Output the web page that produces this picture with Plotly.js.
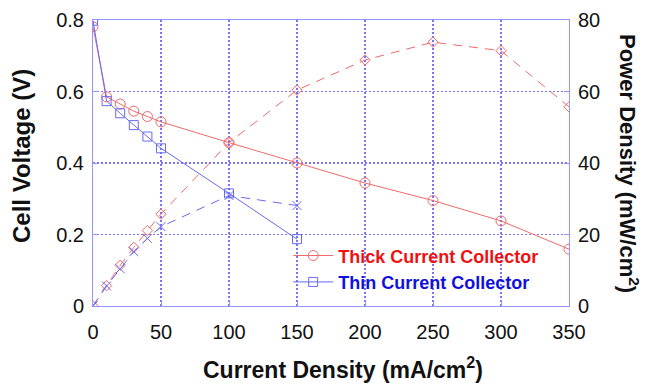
<!DOCTYPE html>
<html>
<head>
<meta charset="utf-8">
<script src="https://cdn.plot.ly/plotly-3.0.1.min.js"></script>
<style>html,body{margin:0;padding:0;background:#fff}#chart{width:645px;height:385px}</style>
</head>
<body>
<div id="chart"></div>
<script>
const currentThick = [0, 10, 20, 30, 40, 50, 100, 150, 200, 250, 300, 350];
const voltageThick = [0.781, 0.585, 0.565, 0.545, 0.530, 0.515, 0.457, 0.400, 0.344, 0.295, 0.238, 0.159];
const powerThick = [0, 5.7, 11.4, 16.4, 21.1, 25.7, 45.7, 60.4, 68.8, 73.8, 71.4, 55.7];

const currentThin = [0, 10, 20, 30, 40, 50, 100, 150];
const voltageThin = [0.798, 0.573, 0.539, 0.506, 0.474, 0.441, 0.315, 0.187];
const powerThin = [0, 5.6, 10.4, 15.2, 18.9, 22.2, 30.9, 28.1];

const red = '#f06a6a';
const blue = '#6a6af2';
const frame = '#9494ff';
const grid = '#7474ff';

const traces = [
  {x: currentThick, y: voltageThick, type: 'scatter', mode: 'lines+markers',
   name: '<b><span style="color:#ee1111">Thick Current Collector</span></b>',
   line: {color: red, width: 1}, marker: {symbol: 'circle-open', size: 10, color: red, line: {width: 1}}},
  {x: currentThin, y: voltageThin, type: 'scatter', mode: 'lines+markers',
   name: '<b><span style="color:#1111dd">Thin Current Collector</span></b>',
   line: {color: blue, width: 1}, marker: {symbol: 'square-open', size: 9, color: blue, line: {width: 1}}},
  {x: currentThick, y: powerThick, type: 'scatter', mode: 'lines+markers', yaxis: 'y2', showlegend: false,
   line: {color: red, width: 1, dash: '9px,7px'}, marker: {symbol: 'diamond-open', size: 8, color: red, line: {width: 1}}},
  {x: currentThin, y: powerThin, type: 'scatter', mode: 'lines+markers', yaxis: 'y2', showlegend: false,
   line: {color: blue, width: 1, dash: '9px,7px'}, marker: {symbol: 'x-thin-open', size: 9, color: blue, line: {width: 1, color: blue}}}
];

const layout = {
  width: 645, height: 385,
  margin: {l: 93, r: 76, t: 20, b: 79},
  paper_bgcolor: '#fff', plot_bgcolor: '#fff',
  font: {family: 'Liberation Sans, Arial, sans-serif', color: '#111'},
  showlegend: true,
  legend: {x: 0.41, y: 0.13, xanchor: 'left', yanchor: 'middle', bgcolor: 'rgba(0,0,0,0)',
           font: {size: 18}, itemwidth: 40},
  xaxis: {range: [0, 350], dtick: 50, showline: true, linecolor: frame, linewidth: 1, mirror: true,
          showgrid: true, gridcolor: grid, griddash: '2px,2px', gridwidth: 1.3, zeroline: false,
          ticks: 'inside', ticklen: 5, tickcolor: frame, ticklabelstandoff: 8,
          tickfont: {size: 20}},
  yaxis: {range: [0, 0.8], dtick: 0.2, showline: true, linecolor: frame, linewidth: 1, mirror: true,
          showgrid: true, gridcolor: grid, griddash: '2px,2px', gridwidth: 1.3, zeroline: false,
          ticks: 'inside', ticklen: 5, tickcolor: frame, ticklabelstandoff: 4,
          tickfont: {size: 20}},
  yaxis2: {range: [0, 80], dtick: 20, overlaying: 'y', side: 'right', showline: true, linecolor: frame,
           showgrid: false, zeroline: false, ticks: 'inside', ticklen: 5, tickcolor: frame, ticklabelstandoff: 4,
           tickfont: {size: 20}},
  annotations: [
    {text: '<b>Current Density (mA/cm<sup>2</sup>)</b>', xref: 'paper', yref: 'paper',
     x: 0.5, y: 0, xanchor: 'center', yanchor: 'middle', xshift: 12, yshift: -62,
     showarrow: false, font: {size: 23, color: '#111'}},
    {text: '<b>Cell Voltage (V)</b>', xref: 'paper', yref: 'paper',
     x: 0, y: 0.5, xanchor: 'center', yanchor: 'middle', xshift: -72, yshift: 7,
     showarrow: false, textangle: -90, font: {size: 24, color: '#111'}},
    {text: '<b>Power Density (mW/cm<sup>2</sup>)</b>', xref: 'paper', yref: 'paper',
     x: 1, y: 0.5, xanchor: 'center', yanchor: 'middle', xshift: 60,
     showarrow: false, textangle: 90, font: {size: 22, color: '#111'}}
  ]
};

Plotly.newPlot('chart', traces, layout, {displayModeBar: false, staticPlot: true});
</script>
</body>
</html>
